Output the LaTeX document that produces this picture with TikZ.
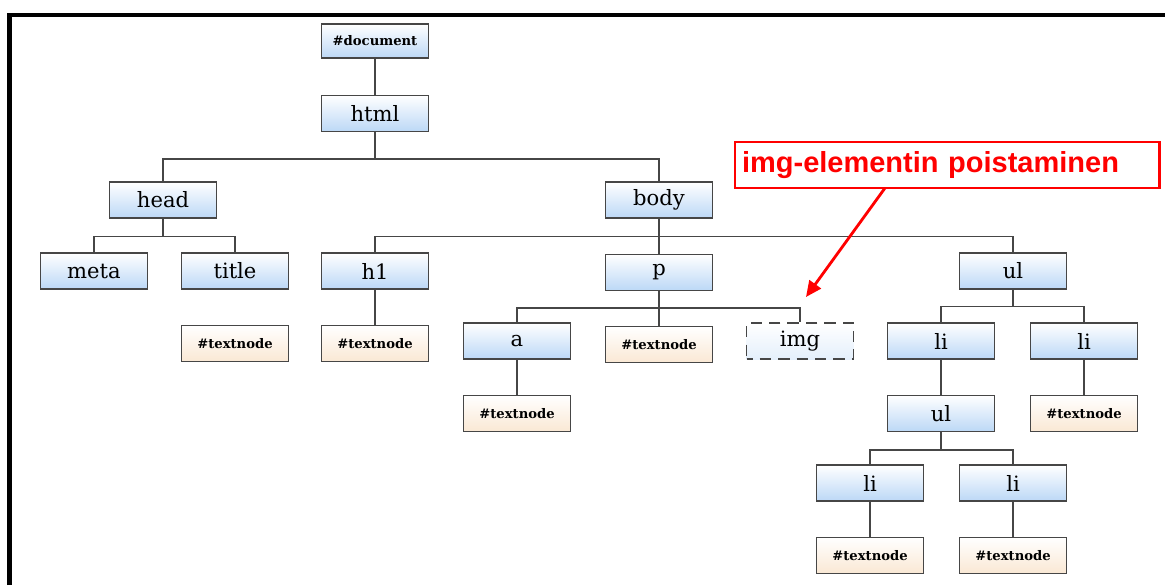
\documentclass[tikz,border=0pt]{standalone}
\usepackage{fontspec}
\setmainfont{DejaVu Serif}
\newfontfamily\notefont{Liberation Sans}
\usetikzlibrary{arrows.meta, positioning}

\definecolor{elemblue}{RGB}{188,216,246}
\definecolor{textpeach}{RGB}{250,232,212}
\definecolor{linegray}{RGB}{70,70,70}

\begin{document}
\begin{tikzpicture}[
    x=0.02cm, y=0.02cm,
    % solmujen tyylit
    elem/.style={rectangle, draw=linegray, line width=0.8pt, top color=white, bottom color=elemblue, minimum width=2.14cm, minimum height=0.72cm, inner sep=0pt, font=\fontsize{12}{14}\selectfont},
    txt/.style={elem, bottom color=textpeach, font=\fontsize{7.5}{9}\selectfont\bfseries},
    gone/.style={elem, dash pattern=on 6.5pt off 4pt, dash phase=3pt, bottom color=elemblue!40},
    link/.style={draw=linegray, line width=0.8pt},
    arrow/.style={-{Triangle[length=9pt, width=8pt]}, red, line width=1.6pt},
    node distance=0.70cm and 0.66cm
]
\useasboundingbox (0,0) rectangle (1165,-585);

% kehys
\draw [line width=2.3pt] (9.5,-585) |- (1165,-15.3);

% --- juuri ---
\node (document) [elem, font=\fontsize{7.5}{9}\selectfont\bfseries, minimum height=0.68cm] at (375,-41) {\#document};
\node (html) [elem, below=0.72cm of document] {html};

% --- taso 1 ---
\node (head) [elem] at (163,-200) {head};
\node (body) [elem] at (659,-200) {body};

% --- taso 2 ---
\node (meta) [elem] at (94,-271) {meta};
\node (title) [elem] at (235,-271) {title};
\node (h1) [elem] at (375,-271) {h1};
\node (p) [elem, below=of body] {p};
\node (ul) [elem] at (1013,-271) {ul};

% --- taso 3 ---
\node (title_text) [txt, below=of title] {\#textnode};
\node (h1_text) [txt, below=of h1] {\#textnode};
\node (a) [elem] at (517,-341) {a};
\node (p_text) [txt, below=of p] {\#textnode};
\node (img) [gone] at (800,-341) {img};
\node (li1) [elem] at (941,-341) {li};
\node (li2) [elem] at (1084,-341) {li};

% --- taso 4 ---
\node (a_text) [txt, below=of a] {\#textnode};
\node (ul2) [elem, below=of li1] {ul};
\node (li2_text) [txt, below=of li2] {\#textnode};

% --- taso 5 ---
\node (li3) [elem] at (870,-483) {li};
\node (li4) [elem] at (1013,-483) {li};
\node (li3_text) [txt, below=of li3] {\#textnode};
\node (li4_text) [txt, below=of li4] {\#textnode};

% --- yhteydet ---
\draw [link] (document) -- (html);
\draw [link] (html.south) -- ++(0,-27) -| (head.north);
\draw [link] (html.south) -- ++(0,-27) -| (body.north);
\draw [link] (head.south) -- ++(0,-18) -| (meta.north);
\draw [link] (head.south) -- ++(0,-18) -| (title.north);
\draw [link] (body.south) -- ++(0,-18) -| (h1.north);
\draw [link] (body.south) -- ++(0,-18) -| (ul.north);
\draw [link] (body) -- (p);
\draw [link] (h1) -- (h1_text);
\draw [link] (p.south) -- ++(0,-17) -| (a.north);
\draw [link] (p.south) -- ++(0,-17) -| (img.north);
\draw [link] (p) -- (p_text);
\draw [link] (ul.south) -- ++(0,-17) -| (li1.north);
\draw [link] (ul.south) -- ++(0,-17) -| (li2.north);
\draw [link] (a) -- (a_text);
\draw [link] (li1) -- (ul2);
\draw [link] (li2) -- (li2_text);
\draw [link] (ul2.south) -- ++(0,-18) -| (li3.north);
\draw [link] (ul2.south) -- ++(0,-18) -| (li4.north);
\draw [link] (li3) -- (li3_text);
\draw [link] (li4) -- (li4_text);

% --- huomautus ---
\node (note) [draw=red, line width=1.2pt, minimum width=8.5cm, minimum height=0.92cm, inner xsep=4pt, text width=8.2cm, align=left, text=red, font=\notefont\fontsize{16.5}{19}\selectfont\bfseries] at (947,-165) {img-elementin poistaminen};
\coordinate (note_foot) at (885,-188);
\coordinate (img_tip) at (806,-297);
\draw [arrow] (note_foot) -- (img_tip);

\end{tikzpicture}
\end{document}
